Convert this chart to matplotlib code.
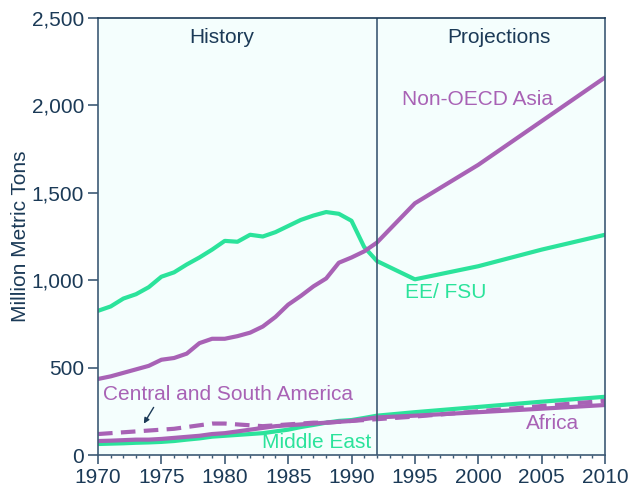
import matplotlib
matplotlib.use("Agg")
import matplotlib.pyplot as plt
from matplotlib.ticker import FuncFormatter, MultipleLocator

# --- data (million metric tons) ---
years = [1970, 1971, 1972, 1973, 1974, 1975, 1976, 1977, 1978, 1979,
         1980, 1981, 1982, 1983, 1984, 1985, 1986, 1987, 1988, 1989,
         1990, 1991, 1992, 1995, 2000, 2005, 2010]
non_oecd_asia = [435, 450, 470, 490, 510, 545, 555, 580, 640, 665,
                 665, 680, 700, 735, 790, 860, 910, 965, 1010, 1100,
                 1130, 1165, 1215, 1440, 1660, 1910, 2160]
ee_fsu = [825, 850, 895, 920, 960, 1020, 1045, 1090, 1130, 1175,
          1225, 1220, 1260, 1250, 1275, 1310, 1345, 1370, 1390, 1380,
          1340, 1190, 1110, 1005, 1080, 1175, 1260]
central_south_america = [120, 125, 130, 135, 140, 145, 150, 160, 170, 180,
                         180, 175, 170, 165, 170, 175, 180, 185, 185, 190,
                         195, 200, 205, 220, 250, 280, 310]
africa = [80, 82, 85, 88, 88, 92, 98, 104, 110, 120,
          125, 135, 145, 155, 165, 170, 175, 180, 185, 190,
          195, 205, 215, 225, 245, 265, 286]
middle_east = [63, 65, 67, 70, 72, 75, 80, 88, 95, 105,
               110, 115, 120, 125, 135, 145, 160, 172, 185, 195,
               200, 212, 225, 245, 275, 305, 333]
split_year = 1992

purple = "#A862B5"
green = "#2BE39B"
navy = "#1B3A57"
axis_col = "#3D5A75"
fs = 15

plt.rcParams['font.family'] = ['Liberation Sans', 'DejaVu Sans']

fig = plt.figure(figsize=(6.3, 4.91), dpi=100)
ax = fig.add_axes([0.1556, 0.0733, 0.8047, 0.89])
ax.set_facecolor("#F4FEFD")

lw = 3
ax.plot(years, ee_fsu, color=green, lw=lw)
ax.plot(years, middle_east, color=green, lw=lw)
ax.plot(years, africa, color=purple, lw=lw)
ax.plot(years, central_south_america, color=purple, lw=lw, dashes=(3.5, 2))
ax.plot(years, non_oecd_asia, color=purple, lw=lw)

ax.axvline(split_year, color=axis_col, lw=1.2)

ax.set_xlim(1970, 2010)
ax.set_ylim(0, 2500)
ax.xaxis.set_major_locator(MultipleLocator(5))
ax.xaxis.set_minor_locator(MultipleLocator(1))
ax.yaxis.set_major_locator(MultipleLocator(500))
ax.yaxis.set_major_formatter(FuncFormatter(lambda v, p: f"{int(v):,}"))

ax.tick_params(axis='both', which='major', labelsize=fs, colors=axis_col,
               labelcolor=navy, direction='out')
ax.tick_params(axis='x', which='major', length=6.5, width=1.2, pad=3)
ax.tick_params(axis='y', which='major', length=7, width=1.2, pad=3)
ax.tick_params(axis='x', which='minor', length=2.5, width=1, colors=axis_col, direction='out')

for side in ['left', 'bottom', 'top', 'right']:
    ax.spines[side].set_color(axis_col)
    ax.spines[side].set_linewidth(1.2)
ax.spines['top'].set_color(navy)

ax.set_ylabel("Million Metric Tons", fontsize=fs, color=navy, labelpad=1)

# labels
ax.text(1979.8, 2386, "History", fontsize=fs, color=navy, ha='center', va='center')
ax.text(2001.6, 2386, "Projections", fontsize=fs, color=navy, ha='center', va='center')
ax.text(1994.0, 2031, "Non-OECD Asia", fontsize=fs, color=purple, ha='left', va='center')
ax.text(1994.2, 927, "EE/ FSU", fontsize=fs, color=green, ha='left', va='center')
ax.text(1970.4, 349, "Central and South America", fontsize=fs, color=purple, ha='left', va='center')
ax.text(1982.9, 74, "Middle East", fontsize=fs, color=green, ha='left', va='center')
ax.text(2003.8, 183, "Africa", fontsize=fs, color=purple, ha='left', va='center')
ax.annotate("", xy=(1973.5, 166), xytext=(1974.5, 286),
            arrowprops=dict(arrowstyle='-|>', color=navy, lw=1, mutation_scale=8))

fig.savefig("out.png", dpi=100)
